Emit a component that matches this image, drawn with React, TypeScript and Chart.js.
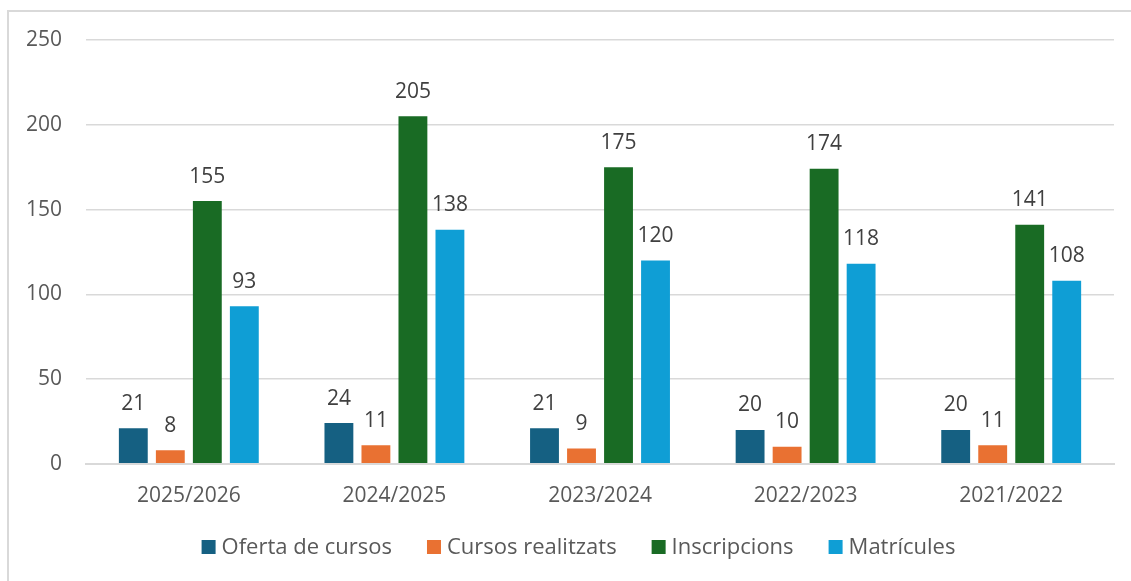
import React, { useEffect, useRef } from "react";
import { Chart, registerables } from "chart.js";

Chart.register(...registerables);

const categories = ["2025/2026", "2024/2025", "2023/2024", "2022/2023", "2021/2022"];
const ofertaCursos = [21, 24, 21, 20, 20];
const cursosRealitzats = [8, 11, 9, 10, 11];
const inscripcions = [155, 205, 175, 174, 141];
const matricules = [93, 138, 120, 118, 108];
const seriesNames = ["Oferta de cursos", "Cursos realitzats", "Inscripcions", "Matrícules"];
const seriesColors = ["#156082", "#E97132", "#196B24", "#0F9ED5"];
const yTicks = [0, 50, 100, 150, 200, 250];

const FONT = "'Open Sans', 'Liberation Sans', sans-serif";

const dataLabels = {
  id: "dataLabels",
  afterDatasetsDraw(chart: any) {
    const ctx = chart.ctx;
    ctx.save();
    ctx.font = `21px ${FONT}`;
    ctx.fillStyle = "#404040";
    ctx.textAlign = "center";
    ctx.textBaseline = "bottom";
    chart.data.datasets.forEach((ds: any, i: number) => {
      const meta = chart.getDatasetMeta(i);
      meta.data.forEach((bar: any, j: number) => {
        ctx.fillText(String(ds.data[j]), bar.x, bar.y - 14);
      });
    });
    ctx.restore();
  },
};

const customLegend = {
  id: "customLegend",
  afterDraw(chart: any) {
    const ctx = chart.ctx;
    ctx.save();
    ctx.font = `22px ${FONT}`;
    ctx.textBaseline = "middle";
    ctx.textAlign = "left";
    const box = 14;
    const gapText = 6;
    const gapItem = 35;
    const items = chart.data.datasets.map((ds: any) => ({
      label: ds.label,
      color: ds.backgroundColor,
      w: box + gapText + ctx.measureText(ds.label).width,
    }));
    const total = items.reduce((s: number, it: any) => s + it.w, 0) + gapItem * (items.length - 1);
    let x = chart.width / 2 + 12 - total / 2;
    const cy = 535;
    items.forEach((it: any) => {
      ctx.fillStyle = it.color;
      ctx.fillRect(x, cy - box / 2, box, box);
      ctx.fillStyle = "#595959";
      ctx.fillText(it.label, x + box + gapText, cy + 1);
      x += it.w + gapItem;
    });
    ctx.restore();
  },
};

export default function App() {
  const ref = useRef<HTMLCanvasElement>(null);
  useEffect(() => {
    if (!ref.current) return;
    const allSeries = [ofertaCursos, cursosRealitzats, inscripcions, matricules];
    const chart = new Chart(ref.current, {
      type: "bar",
      data: {
        labels: categories,
        datasets: allSeries.map((d, i) => ({
          label: seriesNames[i],
          data: d,
          backgroundColor: seriesColors[i],
          borderWidth: 0,
          barPercentage: 0.78,
          categoryPercentage: 0.72,
        })),
      },
      options: {
        animation: false,
        responsive: false,
        maintainAspectRatio: false,
        layout: { padding: { left: 0, right: 17, top: 28, bottom: 52 } },
        plugins: {
          tooltip: { enabled: false },
          legend: { display: false },
        },
        scales: {
          x: {
            grid: { display: false, drawTicks: false },
            border: { color: "#d9d9d9", width: 2 },
            ticks: { color: "#595959", font: { family: FONT, size: 21 }, padding: 20 },
          },
          y: {
            min: 0,
            max: 250,
            afterBuildTicks: (axis: any) => {
              axis.ticks = yTicks.map((v) => ({ value: v }));
            },
            afterFit: (scale: any) => {
              scale.paddingTop = 0;
              scale.paddingBottom = 0;
            },
            grid: { color: "#d9d9d9", lineWidth: 1.5, drawTicks: false },
            border: { display: false },
            ticks: { color: "#595959", font: { family: FONT, size: 21 }, padding: 24 },
          },
        },
      },
      plugins: [dataLabels, customLegend],
    });
    return () => chart.destroy();
  }, []);
  return (
    <div
      style={{
        position: "fixed",
        left: 7,
        top: 10,
        width: 1124,
        height: 571,
        borderTop: "2px solid #d9d9d9",
        borderLeft: "2px solid #d9d9d9",
        background: "#fff",
      }}
    >
      <canvas
        ref={ref}
        width={1129}
        height={569}
        style={{ display: "block", position: "relative", left: -7 }}
      />
    </div>
  );
}
